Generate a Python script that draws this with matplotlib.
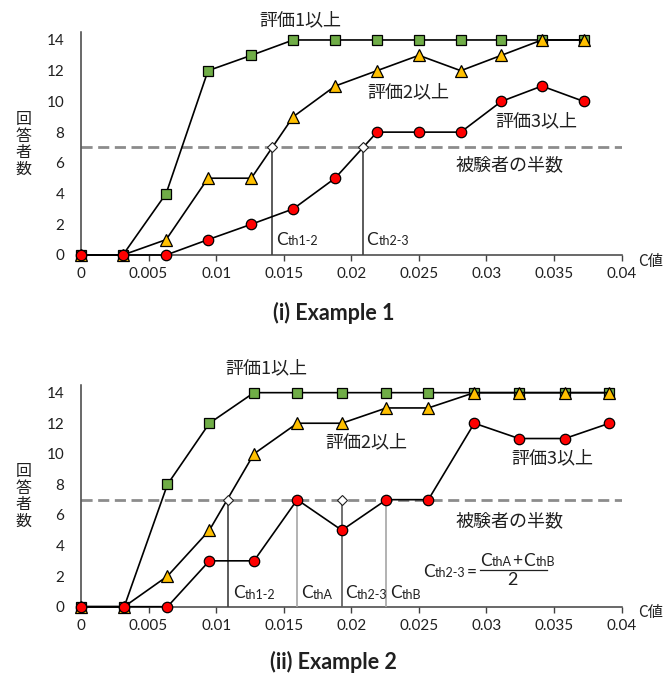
import matplotlib
matplotlib.use("Agg")
import matplotlib.pyplot as plt

plt.rcParams['font.family'] = ['Lato', 'Noto Sans CJK JP', 'DejaVu Sans']

# ---------------- data ----------------
x1 = [0, 0.0031, 0.0063, 0.0094, 0.0126, 0.0157, 0.0188, 0.0219, 0.0250, 0.0281, 0.0311, 0.0341, 0.0372]
g1 = [0, 0, 4, 12, 13, 14, 14, 14, 14, 14, 14, 14, 14]
y1 = [0, 0, 1, 5, 5, 9, 11, 12, 13, 12, 13, 14, 14]
r1 = [0, 0, 0, 1, 2, 3, 5, 8, 8, 8, 10, 11, 10]
cth1 = [0.01415, 0.02084]
cth1_labels = ["th1-2", "th2-3"]

x2 = [0, 0.0032, 0.0064, 0.0095, 0.0128, 0.0160, 0.0193, 0.0226, 0.0257, 0.0291, 0.0324, 0.0358, 0.0391]
g2 = [0, 0, 8, 12, 14, 14, 14, 14, 14, 14, 14, 14, 14]
y2 = [0, 0, 2, 5, 10, 12, 12, 13, 13, 14, 14, 14, 14]
r2 = [0, 0, 0, 3, 3, 7, 5, 7, 7, 12, 11, 11, 12]
cth2_12 = 0.01085
cth2_A = 0.0160
cth2_23 = 0.0193
cth2_B = 0.0226

half = 7
xticks = [0, 0.005, 0.01, 0.015, 0.02, 0.025, 0.03, 0.035, 0.04]
xticklabels = ["0", "0.005", "0.01", "0.015", "0.02", "0.025", "0.03", "0.035", "0.04"]
yticks = [0, 2, 4, 6, 8, 10, 12, 14]

GREEN = '#70AD47'
YELLOW = '#FFC000'
RED = '#FF0000'
AXC = '#404040'
TXT = '#202020'

fig = plt.figure(figsize=(6.67, 6.8), dpi=100)
ax1 = fig.add_axes([0.1214, 0.625, 0.8106, 0.3275])
ax2 = fig.add_axes([0.1214, 0.1078, 0.8106, 0.326])


def style(ax):
    ax.set_xlim(0, 0.04)
    ax.set_ylim(0, 14.5)
    for s in ['top', 'right']:
        ax.spines[s].set_visible(False)
    for s in ['left', 'bottom']:
        ax.spines[s].set_color(AXC)
        ax.spines[s].set_linewidth(1.1)
    ax.set_xticks(xticks)
    ax.set_xticklabels(xticklabels)
    ax.set_yticks(yticks)
    ax.tick_params(axis='x', direction='out', length=4, width=1.0, color=AXC,
                   labelsize=11, pad=5, labelcolor=TXT)
    ax.tick_params(axis='y', length=0, labelsize=11, pad=12, labelcolor=TXT)
    ax.plot([0, 0.04], [half, half], color='#8C8C8C', lw=2.0,
            dashes=(4, 2), zorder=2)
    ax.text(-0.00422, 7.2, "回\n答\n者\n数", fontsize=11.5, ha='center', va='center',
            linespacing=0.98, family=['Noto Sans CJK JP'], color=TXT, clip_on=False)
    ax.text(0.0412, -0.4, "C値", fontsize=11, ha='left', va='center',
            family=['Noto Sans CJK JP'], color=TXT, clip_on=False)


def series(ax, x, g, y, r):
    ax.plot(x, g, color='black', lw=1.2, marker='s', ms=6.5, mfc=GREEN,
            mec='black', mew=0.9, zorder=4, clip_on=False)
    ax.plot(x, y, color='black', lw=1.2, marker='^', ms=8.5, mfc=YELLOW,
            mec='black', mew=0.9, zorder=5, clip_on=False)
    ax.plot(x, r, color='black', lw=1.2, marker='o', ms=7.5, mfc=RED,
            mec='black', mew=0.9, zorder=6, clip_on=False)


def csub(ax, x, y, sub):
    t = ax.text(x, y, "C", fontsize=12.5, ha='left', va='center', color=TXT)
    a = ax.annotate(sub, xy=(1, 0), xycoords=t, xytext=(0.3, 0.5),
                    textcoords='offset points', fontsize=9, ha='left', va='bottom',
                    color=TXT)
    return t, a


def after(ax, prev_sub, c_text, s, gap=1.0, size=12.5):
    return ax.annotate(s, xy=(1, 0.5), xycoords=(prev_sub, c_text),
                       xytext=(gap, 0), textcoords='offset points',
                       fontsize=size, ha='left', va='center', color=TXT)


def csub_after(ax, prev, y_ref, sub, gap=0.5):
    t = ax.annotate("C", xy=(1, 0.5), xycoords=(prev, y_ref),
                    xytext=(gap, 0), textcoords='offset points',
                    fontsize=12.5, ha='left', va='center', color=TXT)
    a = ax.annotate(sub, xy=(1, 0), xycoords=t, xytext=(0.3, 0.5),
                    textcoords='offset points', fontsize=9, ha='left', va='bottom',
                    color=TXT)
    return t, a


def jp(ax, x, y, s, size=13):
    ax.text(x, y, s, fontsize=size, ha='center', va='center',
            family=['Noto Sans CJK JP'], color=TXT, clip_on=False)


# ---------- chart 1 ----------
style(ax1)
for c in cth1:
    ax1.plot([c, c], [0, half], color=AXC, lw=1.2, zorder=3)
series(ax1, x1, g1, y1, r1)
for c in cth1:
    ax1.plot([c], [half], marker='D', ms=5.5, mfc='white', mec=TXT,
             mew=0.8, zorder=8, clip_on=False)
csub(ax1, 0.01443, 0.98, cth1_labels[0])
csub(ax1, 0.02113, 0.98, cth1_labels[1])
jp(ax1, 0.0162, 15.3, "評価1以上")
jp(ax1, 0.0242, 10.6, "評価2以上")
jp(ax1, 0.0337, 8.68, "評価3以上")
jp(ax1, 0.0317, 5.86, "被験者の半数")

# ---------- chart 2 ----------
style(ax2)
ax2.plot([cth2_12, cth2_12], [0, half], color=AXC, lw=1.2, zorder=3)
ax2.plot([cth2_A, cth2_A], [0, half], color='#A6A6A6', lw=1.2, zorder=3)
ax2.plot([cth2_23, cth2_23], [0, half], color='#595959', lw=1.2, zorder=3)
ax2.plot([cth2_B, cth2_B], [0, half], color='#A6A6A6', lw=1.2, zorder=3)
series(ax2, x2, g2, y2, r2)
for c in [cth2_12, cth2_23]:
    ax2.plot([c], [half], marker='D', ms=5.5, mfc='white', mec=TXT,
             mew=0.8, zorder=8, clip_on=False)
csub(ax2, 0.01122, 0.88, "th1-2")
csub(ax2, 0.01628, 0.88, "thA")
csub(ax2, 0.01953, 0.88, "th2-3")
csub(ax2, 0.02286, 0.88, "thB")
jp(ax2, 0.01374, 15.58, "評価1以上")
jp(ax2, 0.0211, 10.78, "評価2以上")
jp(ax2, 0.0349, 9.7, "評価3以上")
jp(ax2, 0.0317, 5.62, "被験者の半数")

# formula  C_th2-3 = (C_thA + C_thB) / 2
fc, fs = csub(ax2, 0.0253, 2.3, "th2-3")
after(ax2, fs, fc, "=", gap=1.0)
nc, ns = csub(ax2, 0.02952, 3.0, "thA")
plus = after(ax2, ns, nc, "+", gap=0.3)
nc2, ns2 = csub_after(ax2, plus, nc, "thB", gap=0.3)
ax2.plot([0.02952, 0.03447], [2.4, 2.4], color=TXT, lw=0.9)
ax2.text(0.03195, 1.75, "2", fontsize=13, ha='center', va='center', color=TXT)

# titles
fig.text(0.5, 1 - 313 / 680, "(i) Example 1", fontsize=15.5, fontweight='bold',
         ha='center', va='center', color=TXT)
fig.text(0.5, 1 - 662 / 680, "(ii) Example 2", fontsize=15.5, fontweight='bold',
         ha='center', va='center', color=TXT)

fig.savefig("out.png", dpi=100)
